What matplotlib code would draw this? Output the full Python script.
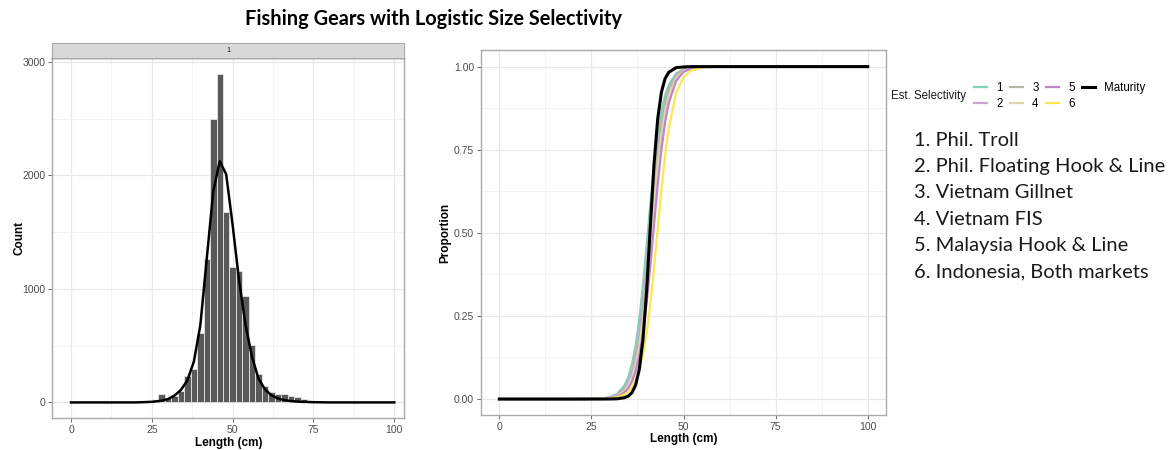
import numpy as np
import matplotlib
matplotlib.use('Agg')
import matplotlib.pyplot as plt

plt.rcParams['font.family'] = ['Liberation Sans', 'DejaVu Sans']

# --- left panel: length frequency (2 cm bins) and fitted density
bin_centers = [26, 28, 30, 32, 34, 36, 38, 40, 42, 44, 46, 48, 50,
               52, 54, 56, 58, 60, 62, 64, 66, 68, 70, 72, 74]
bin_counts = [20, 74, 38, 59, 100, 235, 296, 610, 1261, 2493, 2890, 1680, 1190,
              1157, 935, 507, 252, 147, 88, 70, 76, 59, 44, 27, 8]

dens_x = [0, 20, 25, 28, 30, 32, 34, 36, 38, 40, 42, 44, 46, 48, 50, 52,
          54, 56, 58, 60, 62, 64, 66, 68, 70, 75, 80, 100]
dens_y = [0, 0, 5, 15, 30, 60, 110, 195, 360, 680, 1270, 1860, 2125, 2010, 1560, 1070,
          680, 400, 210, 115, 62, 35, 20, 12, 7, 2, 0, 0]

# --- right panel: selectivity curves
sel_x = [0, 20, 25, 28, 30, 32, 34, 35, 36, 37, 38, 39, 40, 41, 42, 43, 44, 45,
         46, 48, 50, 52, 55, 60, 70, 100]
sel = {
    '1': [0, 0, 0.0005, 0.002, 0.006, 0.016, 0.041, 0.066, 0.104, 0.161, 0.240, 0.343, 0.463,
          0.587, 0.701, 0.794, 0.864, 0.913, 0.945, 0.979, 0.992, 0.997, 0.999, 1, 1, 1],
    '2': [0, 0, 0.0004, 0.0017, 0.0045, 0.012, 0.032, 0.052, 0.083, 0.130, 0.198, 0.289, 0.401,
          0.525, 0.646, 0.750, 0.832, 0.891, 0.931, 0.973, 0.990, 0.996, 0.999, 1, 1, 1],
    '3': [0, 0, 0.0002, 0.0012, 0.0033, 0.009, 0.026, 0.042, 0.069, 0.111, 0.174, 0.261, 0.373,
          0.500, 0.627, 0.739, 0.826, 0.889, 0.931, 0.974, 0.991, 0.997, 0.999, 1, 1, 1],
    '4': [0, 0, 0.0003, 0.0013, 0.0035, 0.0095, 0.025, 0.041, 0.066, 0.104, 0.161, 0.240, 0.343,
          0.463, 0.587, 0.701, 0.794, 0.864, 0.913, 0.966, 0.987, 0.995, 0.999, 1, 1, 1],
    '5': [0, 0, 0.0002, 0.001, 0.0027, 0.0074, 0.020, 0.032, 0.052, 0.083, 0.130, 0.198, 0.289,
          0.401, 0.525, 0.646, 0.750, 0.832, 0.891, 0.957, 0.984, 0.994, 0.999, 1, 1, 1],
    '6': [0, 0, 0.0002, 0.0009, 0.002, 0.0053, 0.014, 0.022, 0.035, 0.056, 0.087, 0.134, 0.199,
          0.287, 0.394, 0.512, 0.629, 0.733, 0.816, 0.921, 0.968, 0.988, 0.997, 1, 1, 1],
}
maturity = [0, 0, 0, 0, 0.0002, 0.0008, 0.004, 0.009, 0.019, 0.042, 0.089, 0.179, 0.327,
            0.520, 0.707, 0.843, 0.923, 0.964, 0.983, 0.997, 0.999, 1, 1, 1, 1, 1]
sel_colors = {'1': '#7fd1b9', '2': '#c9a5cf', '3': '#b3b5a5',
              '4': '#ded5ac', '5': '#c084c9', '6': '#fbe74f'}

gear_names = ['1. Phil. Troll', '2. Phil. Floating Hook & Line', '3. Vietnam Gillnet',
              '4. Vietnam FIS', '5. Malaysia Hook & Line', '6. Indonesia, Both markets']

W, H = 1173, 450
fig = plt.figure(figsize=(W / 100, H / 100), dpi=100)

def px_rect(x0, y0, x1, y1):
    # pixel box (top-left origin) -> figure fraction rect
    return [x0 / W, 1 - y1 / H, (x1 - x0) / W, (y1 - y0) / H]

def style_axes(ax):
    ax.set_facecolor('white')
    ax.grid(True, which='major', color='#e8e8e8', lw=0.9)
    ax.grid(True, which='minor', color='#f1f1f1', lw=0.6)
    ax.set_axisbelow(True)
    for s in ax.spines.values():
        s.set_color('#aaaaaa')
        s.set_linewidth(1.0)
    ax.tick_params(which='major', length=3, width=0.6, color='#555555',
                   labelsize=7.5, labelcolor='#4d4d4d', pad=2)
    ax.tick_params(which='minor', length=0)

# left panel
ax1 = fig.add_axes(px_rect(52.3, 58.3, 404.3, 418.3))
style_axes(ax1)
ax1.bar(bin_centers, bin_counts, width=2, color='#595959', edgecolor='#e6e6e6', lw=0.6)
ax1.plot(dens_x, dens_y, color='black', lw=1.8)
ax1.set_xlim(-5.8, 103.1)
ax1.set_ylim(-140, 3032)
ax1.set_xticks([0, 25, 50, 75, 100])
ax1.set_xticks([12.5, 37.5, 62.5, 87.5], minor=True)
ax1.set_yticks([0, 1000, 2000, 3000])
ax1.set_yticks([500, 1500, 2500], minor=True)
ax1.set_xlabel('Length (cm)', fontsize=8.5, fontweight='bold', labelpad=1)
ax1.set_ylabel('Count', fontsize=8.5, fontweight='bold', labelpad=-2)
ax1.spines['top'].set_color('#333333')

# facet strip
strip = fig.add_axes(px_rect(52.3, 43.3, 404.3, 58.3))
strip.set_facecolor('#d9d9d9')
strip.set_xticks([])
strip.set_yticks([])
for s in strip.spines.values():
    s.set_color('#aaaaaa')
strip.text(0.5, 0.5, '1', ha='center', va='center', fontsize=5.5, color='#1a1a1a',
           transform=strip.transAxes)

# right panel
ax2 = fig.add_axes(px_rect(481, 50, 886, 415))
style_axes(ax2)
handles = []
for k in ['1', '2', '3', '4', '5', '6']:
    h, = ax2.plot(sel_x, sel[k], color=sel_colors[k], lw=1.6, label=k)
    handles.append(h)
h, = ax2.plot(sel_x, maturity, color='black', lw=2.2, label='Maturity')
handles.append(h)
ax2.set_xlim(-4.97, 104.97)
ax2.set_ylim(-0.048, 1.05)
ax2.set_xticks([0, 25, 50, 75, 100])
ax2.set_xticks([12.5, 37.5, 62.5, 87.5], minor=True)
ax2.set_yticks([0, 0.25, 0.5, 0.75, 1.0])
ax2.set_yticklabels(['0.00', '0.25', '0.50', '0.75', '1.00'])
ax2.set_yticks([0.125, 0.375, 0.625, 0.875], minor=True)
ax2.set_xlabel('Length (cm)', fontsize=8.5, fontweight='bold', labelpad=1)
ax2.set_ylabel('Proportion', fontsize=8.5, fontweight='bold', labelpad=2)

# legend
fig.text(966 / W, 1 - 96 / H, 'Est. Selectivity', ha='right', va='center',
         fontsize=8.3, color='#1a1a1a')
fig.legend(handles=handles, labels=[h.get_label() for h in handles], ncol=4,
           loc='upper left', bbox_to_anchor=(974 / W, 1 - 82 / H), frameon=False,
           fontsize=8.3, handlelength=1.15, handletextpad=0.8, columnspacing=0.6,
           labelspacing=0.35, borderpad=0, borderaxespad=0)

# gear key
for i, name in enumerate(gear_names):
    fig.text(914 / W, 1 - (140 + 26.4 * i) / H, name, ha='left', va='center',
             fontsize=14.5, family=['Lato', 'DejaVu Sans'], color='#1a1a1a')

fig.text(433 / W, 1 - 19 / H, 'Fishing Gears with Logistic Size Selectivity',
         ha='center', va='center', fontsize=14.4, fontweight='bold',
         family=['Lato', 'DejaVu Sans'], color='black')

fig.savefig('out.png', dpi=100)
